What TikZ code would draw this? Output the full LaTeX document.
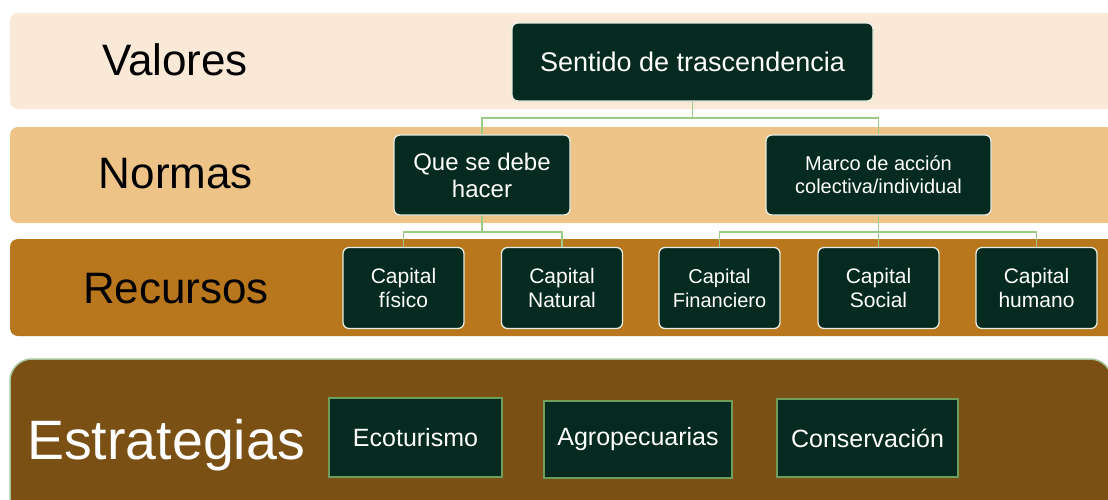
\documentclass[tikz,border=0pt]{standalone}
\usepackage{fontspec}
\setmainfont{Liberation Sans}
\definecolor{bandA}{HTML}{FAE9D7}
\definecolor{bandB}{HTML}{EDC388}
\definecolor{bandC}{HTML}{B8771D}
\definecolor{bandD}{HTML}{7A5015}
\definecolor{boxfill}{HTML}{052A1F}
\definecolor{connc}{HTML}{9CCB88}
\definecolor{stratborder}{HTML}{6E9E5C}
\definecolor{bandborder}{HTML}{A6C69A}
\definecolor{boxborder}{HTML}{E4EDE0}
\tikzset{
  band/.style={rounded corners=8pt},
  lbl/.style={anchor=base, text=black, inner sep=0pt, font=\fontsize{44}{50}\selectfont},
  rbox/.style={draw=boxborder, line width=1.3pt, fill=boxfill, rounded corners=6pt, text=white, align=center, inner sep=2pt},
  capbox/.style={rbox, minimum width=121pt, minimum height=81pt, font=\fontsize{21}{24}\selectfont},
  sbox/.style={draw=stratborder, line width=1.5pt, fill=boxfill, text=white, align=center, font=\fontsize{25}{29}\selectfont},
  conn/.style={draw=connc, line width=1.8pt}
}
\begin{document}
\begin{tikzpicture}[x=1pt,y=-1pt]
\useasboundingbox (0,0) rectangle (1108,499);
\clip (0,0) rectangle (1108,499);
\fill[white] (0,0) rectangle (1108,499);
% bands
\fill[bandA, band] (10,13) rectangle (1130,109);
\fill[bandB, band] (10,127) rectangle (1130,223);
\fill[bandC, band] (10,239) rectangle (1130,336);
\filldraw[fill=bandD, draw=bandborder, line width=1.5pt, rounded corners=22pt] (10,359) rectangle (1112,530);
% band labels
\node[lbl] (lv) at (175,75) {Valores};
\node[lbl] (ln) at (176,188) {Normas};
\node[lbl] (lr) at (176,303) {Recursos};
\node[lbl, text=white, font=\fontsize{55.5}{62}\selectfont] (le) at (166,459) {Estrategias};
% nodes
\node[rbox, minimum width=361pt, minimum height=78pt, font=\fontsize{27}{31}\selectfont] (sent) at (692.5,62) {Sentido de trascendencia};
\node[rbox, minimum width=176pt, minimum height=80pt, font=\fontsize{24}{27}\selectfont] (que) at (482,175) {Que se debe\\hacer};
\node[rbox, minimum width=225pt, minimum height=80pt, font=\fontsize{20}{23}\selectfont] (marco) at (878.5,175) {Marco de acción\\colectiva/individual};
\node[capbox] (fis) at (403.5,288) {Capital\\físico};
\node[capbox] (nat) at (562,288) {Capital\\Natural};
\node[capbox, font=\fontsize{20}{24}\selectfont] (fin) at (719.5,288) {Capital\\Financiero};
\node[capbox] (soc) at (878.5,288) {Capital\\Social};
\node[capbox] (hum) at (1036.5,288) {Capital\\humano};
\node[sbox, minimum width=173pt, minimum height=79pt] (eco) at (415.5,437.5) {Ecoturismo};
\node[sbox, minimum width=188pt, minimum height=77pt] (agro) at (638,439.5) {Agropecuarias};
\node[sbox, minimum width=181pt, minimum height=78pt] (cons) at (867.5,438) {Conservación};
% connectors
\draw[conn] (sent.south) -- ++(0,16) -| (que.north);
\draw[conn] (sent.south) -- ++(0,16) -| (marco.north);
\draw[conn] (que.south) -- ++(0,16) -| (fis.north);
\draw[conn] (que.south) -- ++(0,16) -| (nat.north);
\draw[conn] (marco.south) -- ++(0,16) -| (fin.north);
\draw[conn] (marco.south) -- (soc.north);
\draw[conn] (marco.south) -- ++(0,16) -| (hum.north);
\end{tikzpicture}
\end{document}
